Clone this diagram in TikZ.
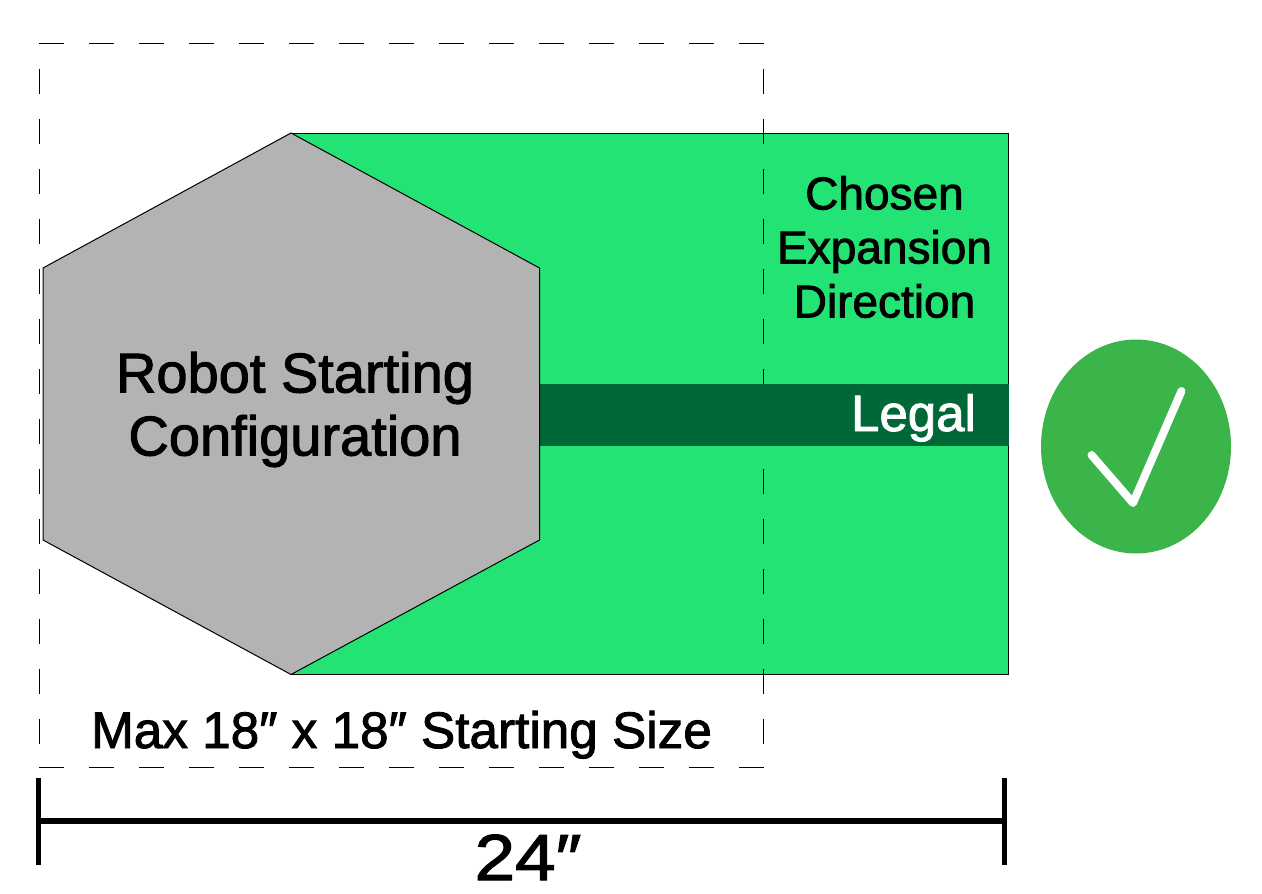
\documentclass[tikz,border=0pt]{standalone}
\usepackage{fontspec}
\setmainfont[FakeBold=1.8]{Liberation Sans}
\newfontfamily\widefont[FakeBold=1.8,FakeStretch=1.12]{Liberation Sans}
\definecolor{brightgreen}{HTML}{24E375}
\definecolor{darkband}{HTML}{006837}
\definecolor{okgreen}{HTML}{3BB54A}
\definecolor{hexgray}{HTML}{B3B3B3}
\tikzset{
  outline/.style={draw=black,line width=1pt,line join=miter},
  dashbox/.style={draw=black,line width=1pt,dash pattern=on 25pt off 25pt},
  dimline/.style={draw=black,line width=6pt},
  dimtick/.style={draw=black,line width=5pt},
  label/.style={inner sep=0pt,outer sep=0pt,align=center,text=black},
}
\begin{document}
\begin{tikzpicture}[x=1pt,y=-1pt]
\useasboundingbox (0,0) rectangle (1262,894);
\fill[white] (0,0) rectangle (1262,894);
% expansion area
\path[outline,fill=brightgreen] (291,133) rectangle (1008.5,674.5);
% dashed starting-size box
\coordinate (tl) at (39,43.5);
\coordinate (tr) at (763.5,43.5);
\coordinate (bl) at (39,767.5);
\coordinate (br) at (763.5,767.5);
\draw[dashbox] (tl) -- (tr);
\draw[dashbox] (bl) -- (br);
\draw[dashbox,dash phase=25pt] (tl) -- (bl);
\draw[dashbox,dash phase=25pt] (tr) -- (br);
% band
\fill[darkband] (539,384) rectangle (1008.5,445.5);
\path[outline,fill=hexgray] (291,133) -- (539.5,268) -- (539.5,540) -- (291,674.5) -- (43,540) -- (43,268) -- cycle;
% texts
\node[label,font=\fontsize{56}{63}\selectfont] (robot) at (295,409.5) {Robot Starting\\Configuration};
\node[label,font=\fontsize{46}{54}\selectfont] (chosen) at (884.5,247) {Chosen\\Expansion\\Direction};
\node[label,font=\fontsize{51}{51}\selectfont,text=white,anchor=base] (legal) at (913.5,431) {Legal};
\node[label,font=\fontsize{51.3}{51}\selectfont,anchor=base] (maxsize) at (401.5,748) {Max 18″ x 18″ Starting Size};
\node[label,font=\widefont\fontsize{65}{65}\selectfont,anchor=base] (span) at (528,880) {24″};
% dimension
\coordinate (dl) at (38,821);
\coordinate (dr) at (1004,821);
\coordinate (dlt) at (38,778);
\coordinate (dlb) at (38,865);
\coordinate (drt) at (1004,778);
\coordinate (drb) at (1004,865);
\draw[dimline] (dl) -- (dr);
\draw[dimtick] (dlt) -- (dlb);
\draw[dimtick] (drt) -- (drb);
% check badge
\fill[okgreen] (1136,446.5) ellipse [x radius=95,y radius=107];
\coordinate (c1) at (1091.5,455);
\coordinate (c2) at (1133,503);
\coordinate (c3) at (1181.5,391);
\draw[white,line width=8pt,line cap=round,line join=round] (c1) -- (c2) -- (c3);
\end{tikzpicture}
\end{document}
